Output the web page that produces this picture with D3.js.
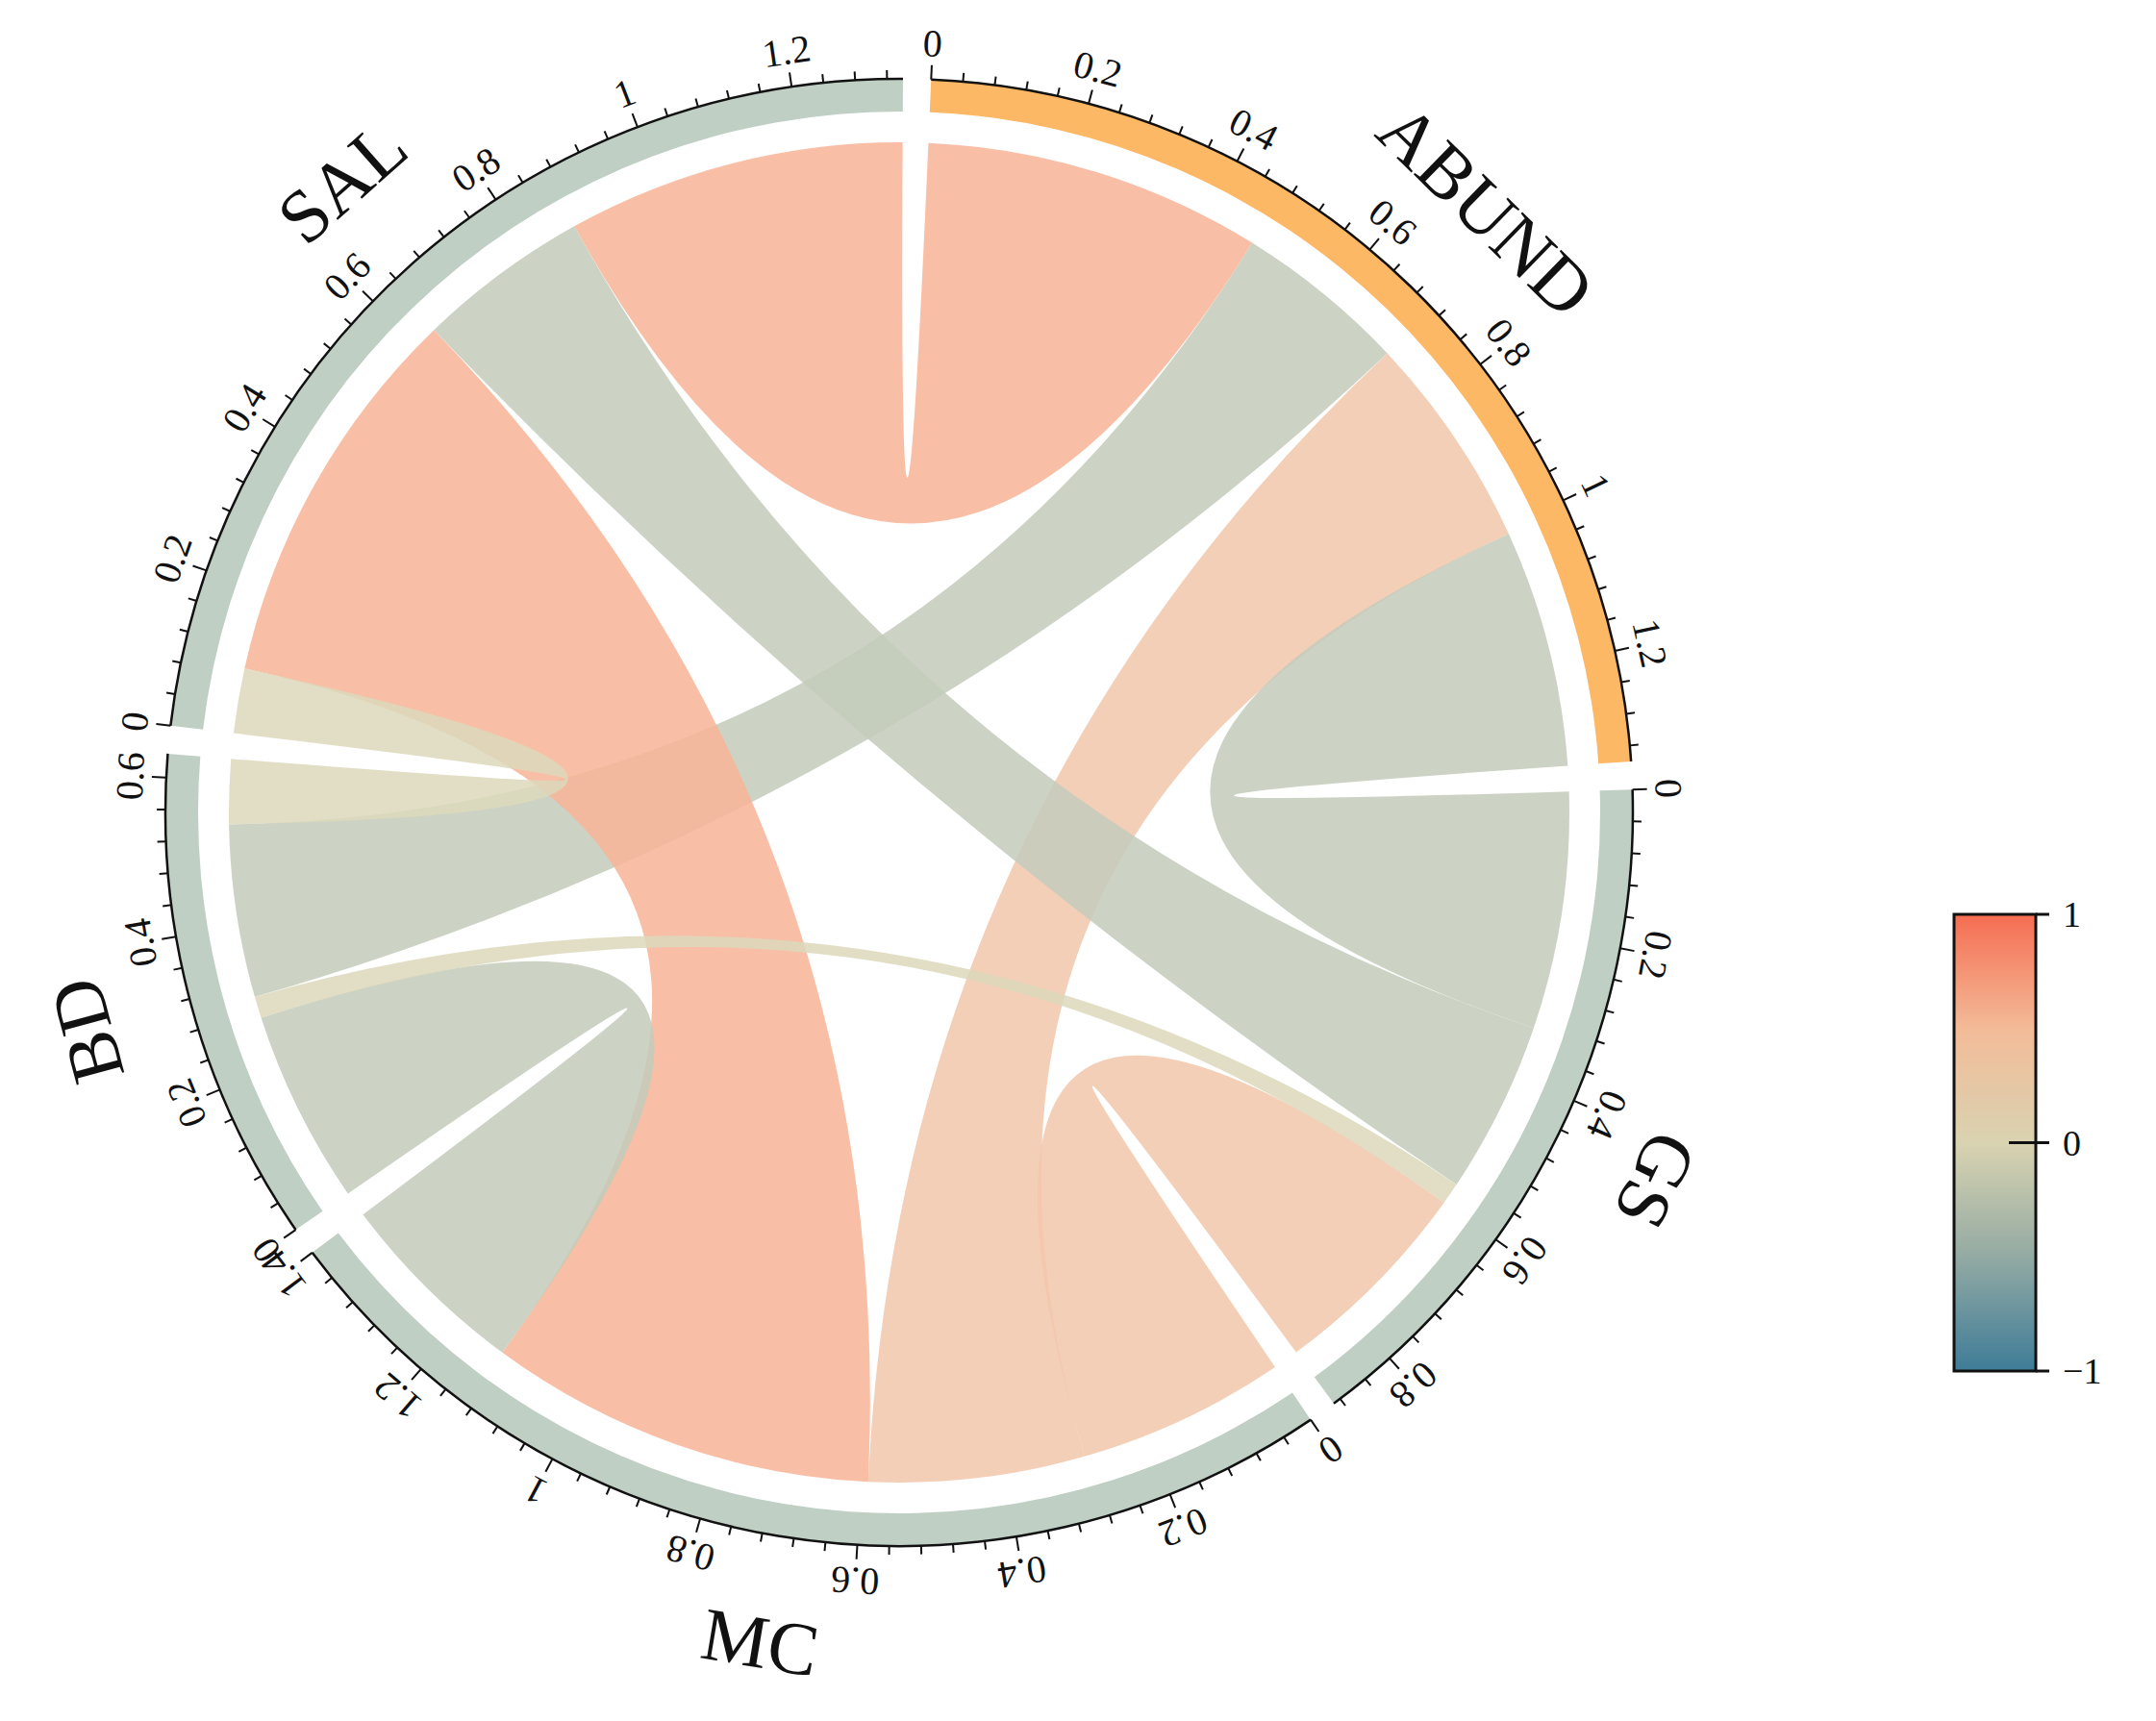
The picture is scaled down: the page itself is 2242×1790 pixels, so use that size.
<!DOCTYPE html>
<html>
<head>
<meta charset="utf-8">
<script src="https://cdn.jsdelivr.net/npm/d3@7"></script>
<style>
  body { margin: 0; background: #fff; }
  text { font-family: "Liberation Serif", "DejaVu Serif", serif; fill: #111; }
</style>
</head>
<body>
<svg id="chart" width="2242" height="1790"></svg>
<script>
// sectors, clockwise from the top
const sectors = ['ABUND', 'GS', 'MC', 'BD', 'SAL']
const sectorColors = ['#fdb866', '#bfcfc4', '#bfcfc4', '#bfcfc4', '#bfcfc4']

// links: [source, target, width, correlation]
const links = [
  ['ABUND', 'SAL', 0.47, 0.55],
  ['ABUND', 'BD', 0.24, -0.3],
  ['ABUND', 'MC', 0.30, 0.35],
  ['ABUND', 'GS', 0.33, -0.35],
  ['SAL', 'GS', 0.24, -0.3],
  ['SAL', 'MC', 0.54, 0.62],
  ['GS', 'MC', 0.29, 0.35],
  ['BD', 'MC', 0.27, -0.35],
  ['BD', 'GS', 0.03, 0.05],
  ['SAL', 'BD', 0.09, 0.05]
]

// order of partners inside each sector, clockwise
const linkOrder = {
  ABUND: ['SAL', 'BD', 'MC', 'GS'],
  GS: ['ABUND', 'SAL', 'BD', 'MC'],
  MC: ['GS', 'ABUND', 'SAL', 'BD'],
  BD: ['MC', 'GS', 'ABUND', 'SAL'],
  SAL: ['BD', 'MC', 'GS', 'ABUND']
}

const corrTicks = [1, 0, -1]

const svg = d3.select('#chart')
const cx = 935, cy = 845
const rRibbon = 697, rIn = 729, rOut = 763
const padDeg = 2.2, startDeg = 2.5

const linkVal = (a, b) => links.find(l => (l[0] === a && l[1] === b) || (l[0] === b && l[1] === a))
const totals = sectors.map(s => d3.sum(linkOrder[s], p => linkVal(s, p)[2]))
const unitDeg = (360 - padDeg * sectors.length) / d3.sum(totals)
const rad = d => d * Math.PI / 180

// sector angles and sub-ranges
const groups = {}
let a0 = startDeg
sectors.forEach((s, i) => {
  const g = { name: s, start: a0, end: a0 + totals[i] * unitDeg, color: sectorColors[i], total: totals[i], sub: {} }
  let a = a0
  linkOrder[s].forEach(p => {
    const w = linkVal(s, p)[2] * unitDeg
    g.sub[p] = [a, a + w]
    a += w
  })
  groups[s] = g
  a0 = g.end + padDeg
})

const color = d3.scaleLinear()
  .domain([-1, -0.5, 0, 0.5, 1])
  .range(['#3e7c98', '#93aaa3', '#d9d3b1', '#f3bb98', '#f56d52'])

const ribbonColor = c => {
  if (Math.abs(c) < 0.1) return '#dcd8bb'
  if (c < 0) return '#c3cbbb'
  if (c > 0.5) return '#f8b496'
  return '#f2c7ab'
}

const root = svg.append('g').attr('transform', `translate(${cx},${cy})`)

// ribbons
const ribbon = d3.ribbon().radius(rRibbon)
root.append('g').selectAll('path')
  .data(links)
  .join('path')
  .attr('d', l => {
    const s = groups[l[0]].sub[l[1]], t = groups[l[1]].sub[l[0]]
    return ribbon({
      source: { startAngle: rad(s[0]), endAngle: rad(s[1]) },
      target: { startAngle: rad(t[0]), endAngle: rad(t[1]) }
    })
  })
  .attr('fill', l => ribbonColor(l[3]))
  .attr('fill-opacity', 0.85)

// ring
const arc = d3.arc().innerRadius(rIn).outerRadius(rOut)
const gs = Object.values(groups)
root.append('g').selectAll('path')
  .data(gs)
  .join('path')
  .attr('d', g => arc({ startAngle: rad(g.start), endAngle: rad(g.end) }))
  .attr('fill', g => g.color)

// axis line + ticks
const axis = root.append('g')
gs.forEach(g => {
  axis.append('path')
    .attr('d', d3.arc().innerRadius(rOut).outerRadius(rOut)({ startAngle: rad(g.start), endAngle: rad(g.end) }))
    .attr('stroke', '#111').attr('stroke-width', 2.5).attr('fill', 'none')
  const minor = d3.range(0, g.total + 1e-6, 0.04)
  minor.forEach(v => {
    const a = g.start + v * unitDeg
    const major = Math.abs(v / 0.2 - Math.round(v / 0.2)) < 1e-6
    axis.append('line')
      .attr('transform', `rotate(${a})`)
      .attr('y1', -rOut).attr('y2', -rOut - (major ? 15 : 9))
      .attr('stroke', '#111').attr('stroke-width', 2)
    if (major) {
      axis.append('text')
        .attr('transform', `rotate(${a}) translate(0,${-rOut - 24})`)
        .attr('text-anchor', 'middle')
        .attr('font-size', 40)
        .text(d3.format('~g')(+v.toFixed(1)))
    }
  })
  // sector name
  const mid = (g.start + g.end) / 2
  const flip = mid > 135 && mid < 225
  axis.append('text')
    .attr('transform', `rotate(${mid}) translate(0,${-rOut - 112}) rotate(${flip ? 180 : 0})`)
    .attr('text-anchor', 'middle')
    .attr('dominant-baseline', 'central')
    .attr('font-size', 78)
    .text(g.name)
})

// legend
const lx = 2032, ly = 951, lw = 85, lh = 475
const defs = svg.append('defs')
const grad = defs.append('linearGradient').attr('id', 'lg').attr('x1', 0).attr('y1', 0).attr('x2', 0).attr('y2', 1)
d3.range(0, 1.0001, 0.05).forEach(t => {
  grad.append('stop').attr('offset', t).attr('stop-color', color(1 - 2 * t))
})
svg.append('rect').attr('x', lx).attr('y', ly).attr('width', lw).attr('height', lh)
  .attr('fill', 'url(#lg)').attr('stroke', '#111').attr('stroke-width', 3)
const ly2 = d3.scaleLinear().domain([1, -1]).range([ly, ly + lh])
corrTicks.forEach(v => {
  svg.append('line').attr('x1', lx + lw - (v === 0 ? 28 : 0)).attr('x2', lx + lw + 14)
    .attr('y1', ly2(v)).attr('y2', ly2(v)).attr('stroke', '#111').attr('stroke-width', 3)
  svg.append('text').attr('x', lx + lw + 28).attr('y', ly2(v))
    .attr('dominant-baseline', 'central').attr('font-size', 38)
    .text(v < 0 ? '\u2212' + Math.abs(v) : v)
})
</script>
</body>
</html>
